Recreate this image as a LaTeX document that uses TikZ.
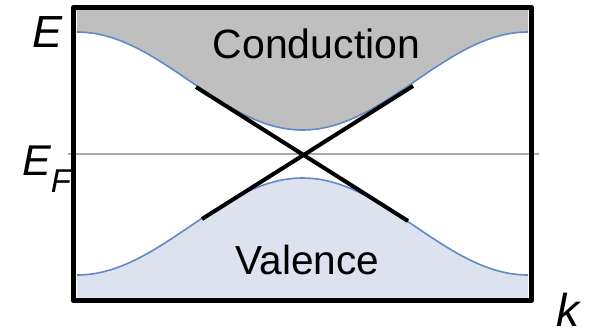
\documentclass[tikz,border=0pt]{standalone}
\usepackage{fontspec}
\setmainfont{Liberation Sans}
\usetikzlibrary{positioning}

\definecolor{bandblue}{RGB}{98,137,199}
\definecolor{condgray}{RGB}{191,191,191}
\definecolor{valblue}{RGB}{220,227,239}
\definecolor{fermigray}{RGB}{170,170,170}

\begin{document}
\begin{tikzpicture}[x=0.5pt,y=-0.5pt,
  band/.style={draw=bandblue,line width=0.8pt},
  cone/.style={draw=black,line width=2pt},
  lbl/.style={inner sep=0pt,anchor=base}]
\useasboundingbox (0,0) rectangle (592,329);

% filled bands
\fill[condgray] (77,10) -- plot[domain=77:528,samples=120] (\x,{81-49*cos(0.79823*(\x-77))}) -- (528,10) -- cycle;
\fill[valblue] (77,298) -- plot[domain=77:528,samples=120] (\x,{226.5+48.5*cos(0.79823*(\x-77))}) -- (528,298) -- cycle;
\draw[band] plot[domain=77:528,samples=120] (\x,{81-49*cos(0.79823*(\x-77))});
\draw[band] plot[domain=77:528,samples=120] (\x,{226.5+48.5*cos(0.79823*(\x-77))});

% Fermi level
\coordinate (f0) at (68,154);
\coordinate (f1) at (539,154);
\draw[fermigray,line width=0.75pt] (f0) -- (f1);

% Dirac cone
\coordinate (ul) at (196,87);
\coordinate (ur) at (413,86);
\coordinate (ll) at (202,219);
\coordinate (lr) at (408,221);
\draw[cone] (ul) -- (lr);
\draw[cone] (ur) -- (ll);

% frame
\draw[line width=2.6pt,line join=round] (73.5,7.5) rectangle (531.5,300.5);

% labels
\node[lbl] (cond) at (316.5,58) {\fontsize{20.5}{24}\selectfont Conduction};
\node[lbl] (val) at (307.5,274) {\fontsize{20.3}{24}\selectfont Valence};
\node[lbl] (E) at (47.5,47) {\fontsize{22.5}{26}\selectfont\itshape E};
\node[lbl] (EF) at (37,175) {\fontsize{21.5}{26}\selectfont\itshape E};
\node[lbl] (F) at (61,192) {\fontsize{16.5}{20}\selectfont\itshape F};
\node[lbl] (k) at (568,326) {\fontsize{23}{26}\selectfont\itshape k};
\end{tikzpicture}
\end{document}
